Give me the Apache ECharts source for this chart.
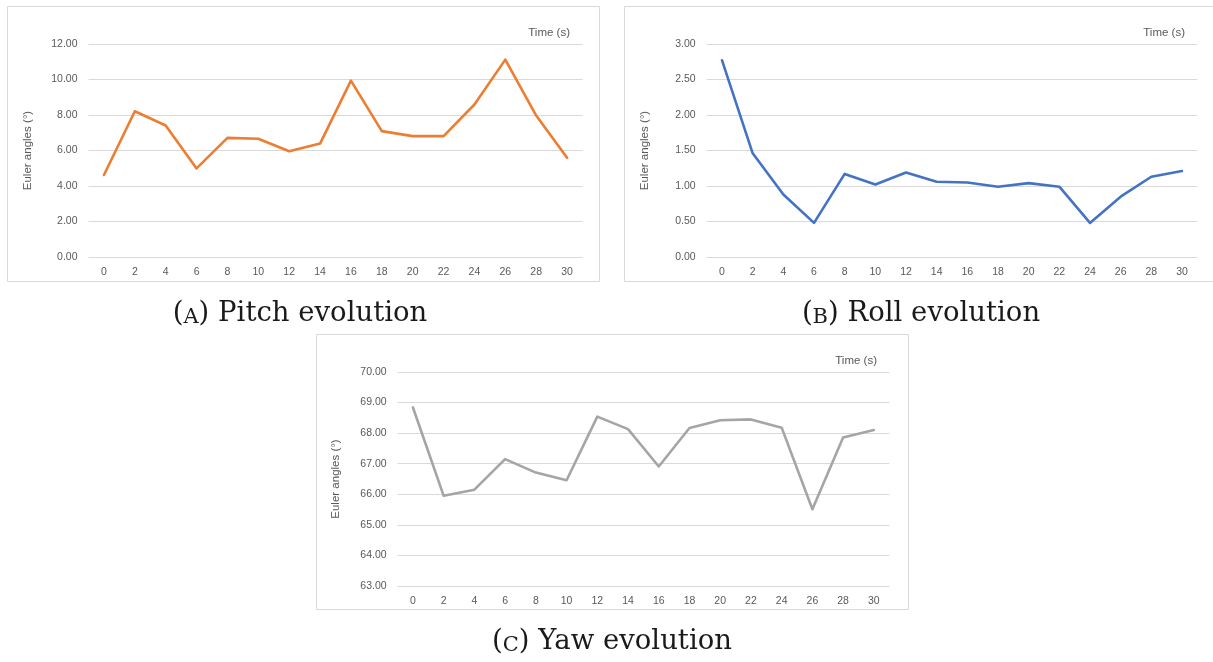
<!DOCTYPE html>
<html>
<head>
<meta charset="utf-8">
<style>
  html, body { margin: 0; padding: 0; background: #ffffff; }
  #chart { width: 1213px; height: 662px; }
</style>
<script src="https://cdn.jsdelivr.net/npm/echarts@6/dist/echarts.min.js"></script>
</head>
<body>
<div id="chart"></div>
<script>
// Time stamps (s)
const timeLabels = ['0', '2', '4', '6', '8', '10', '12', '14', '16', '18', '20', '22', '24', '26', '28', '30'];

// Euler angles (°)
const pitch = [4.62, 8.21, 7.41, 4.99, 6.71, 6.66, 5.96, 6.39, 9.94, 7.09, 6.81, 6.81, 8.59, 11.12, 7.97, 5.59];
const roll  = [2.77, 1.46, 0.88, 0.48, 1.17, 1.02, 1.19, 1.06, 1.05, 0.99, 1.04, 0.99, 0.48, 0.85, 1.13, 1.21];
const yaw   = [68.84, 65.95, 66.15, 67.15, 66.71, 66.46, 68.54, 68.13, 66.91, 68.17, 68.42, 68.45, 68.18, 65.51, 67.86, 68.10];

const captions = ['Pitch evolution', 'Roll evolution', 'Yaw evolution'];
const captionTags = ['A', 'B', 'C'];
const xTitle = 'Time (s)';
const yTitle = 'Euler angles (°)';

const labelFont = '"Liberation Sans", Arial, sans-serif';
const textGrey = '#595959';
const gridGrey = '#d9d9d9';

// Panel layout: frame box, plotting area, axis scale
const panels = [
  { box: [7, 6, 592, 275], grid: { left: 88.5, top: 44, width: 494, height: 213 },
    y: { min: 0, max: 12, interval: 2 }, data: pitch, color: '#ed7d31',
    yTitleX: 28, timeRight: 570, timeY: 33, cap: [300, 314] },
  { box: [624, 6, 592, 275], grid: { left: 706.7, top: 44, width: 490.6, height: 213 },
    y: { min: 0, max: 3, interval: 0.5 }, data: roll, color: '#4472c4',
    yTitleX: 645, timeRight: 1185, timeY: 33, cap: [921, 314] },
  { box: [316, 334, 592, 275], grid: { left: 397.6, top: 372, width: 491.6, height: 214 },
    y: { min: 63, max: 70, interval: 1 }, data: yaw, color: '#a5a5a5',
    yTitleX: 336, timeRight: 877, timeY: 361, cap: [612, 642] }
];

const grids = [], xAxes = [], yAxes = [], series = [], graphics = [];

panels.forEach((p, i) => {
  // frame around each chart
  graphics.push({
    type: 'rect', z: -10, silent: true,
    shape: { x: p.box[0] + 0.5, y: p.box[1] + 0.5, width: p.box[2], height: p.box[3] },
    style: { fill: '#ffffff', stroke: gridGrey, lineWidth: 1 }
  });
  grids.push(p.grid);
  xAxes.push({
    type: 'category', gridIndex: i, data: timeLabels, boundaryGap: true,
    axisLine: { show: false }, axisTick: { show: false },
    axisLabel: { color: textGrey, fontFamily: labelFont, fontSize: 10.5, margin: 10 }
  });
  yAxes.push({
    type: 'value', gridIndex: i, min: p.y.min, max: p.y.max, interval: p.y.interval,
    axisLine: { show: false }, axisTick: { show: false },
    splitLine: { lineStyle: { color: gridGrey, width: 1 } },
    axisLabel: { color: textGrey, fontFamily: labelFont, fontSize: 10.5, margin: 11,
      formatter: v => v.toFixed(2) }
  });
  series.push({
    type: 'line', xAxisIndex: i, yAxisIndex: i, data: p.data,
    showSymbol: false, symbol: 'none',
    lineStyle: { color: p.color, width: 2.6, join: 'round', cap: 'round' },
    itemStyle: { color: p.color }
  });
  // axis titles
  graphics.push({
    type: 'text', silent: true,
    x: p.yTitleX, y: p.grid.top + p.grid.height / 2, rotation: Math.PI / 2,
    style: { text: yTitle, fill: textGrey, font: '11.5px ' + labelFont,
      textAlign: 'center', textVerticalAlign: 'middle' }
  });
  graphics.push({
    type: 'text', silent: true,
    x: p.timeRight, y: p.timeY,
    style: { text: xTitle, fill: textGrey, font: '11.5px ' + labelFont,
      textAlign: 'right', textVerticalAlign: 'middle' }
  });
  // sub-figure caption
  graphics.push({
    type: 'text', silent: true,
    x: p.cap[0], y: p.cap[1],
    style: {
      text: '(' + '{sc|' + captionTags[i] + '}' + ') ' + captions[i],
      fill: '#1a1a1a', font: '27.5px "DejaVu Serif", serif',
      textAlign: 'center', textVerticalAlign: 'middle',
      rich: { sc: { fontSize: 21, fontFamily: '"DejaVu Serif", serif', fill: '#1a1a1a', verticalAlign: 'bottom' } }
    }
  });
});

const chart = echarts.init(document.getElementById('chart'), null, { renderer: 'canvas' });
chart.setOption({
  backgroundColor: '#ffffff',
  animation: false,
  grid: grids,
  xAxis: xAxes,
  yAxis: yAxes,
  series: series,
  graphic: { elements: graphics }
});
</script>
</body>
</html>
